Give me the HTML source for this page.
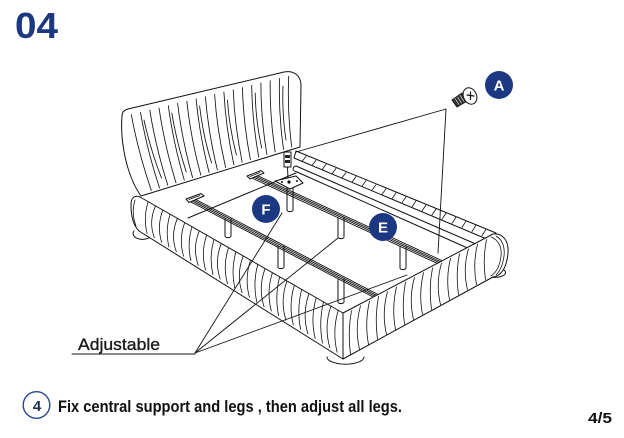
<!DOCTYPE html>
<html>
<head>
<meta charset="utf-8">
<style>
html,body{margin:0;padding:0;background:#fff;}
svg{display:block;}
text{font-family:"Liberation Sans",sans-serif;}
</style>
</head>
<body>
<svg width="624" height="438" viewBox="0 0 624 438" xmlns="http://www.w3.org/2000/svg">
<rect width="624" height="438" fill="#fff"/>
<text x="15" y="38" font-size="36" font-weight="bold" fill="#1c3883" textLength="43" lengthAdjust="spacingAndGlyphs">04</text>

<g stroke="#111" fill="none" stroke-width="1" stroke-linecap="round" stroke-linejoin="round">
<!-- headboard -->
<path d="M141,196 C126,175 120,140 122,116 C122,112 124,110 128,109 L284,72 C294,70 301,76 301,85 L300,147 Z" fill="#fff"/>
<g stroke-width="0.85">
<path d="M131.3,114.7 Q138.3,152.6 151.3,190.4"/>
<path d="M140.5,112.5 Q147,150.2 159.5,187.9"/>
<path d="M149.8,110.2 Q155.8,147.8 167.8,185.3"/>
<path d="M159,108 Q164.5,145.4 176,182.8"/>
<path d="M168.3,105.7 Q173.3,143 184.3,180.2"/>
<path d="M177.6,103.4 Q182.1,140.5 192.6,177.6"/>
<path d="M186.8,101.2 Q190.8,138.2 200.8,175.1"/>
<path d="M196.1,98.9 Q199.6,135.7 209.1,172.5"/>
<path d="M205.4,96.7 Q208.4,133.3 217.4,169.9"/>
<path d="M214.6,94.4 Q217.1,130.9 225.6,167.4"/>
<path d="M223.9,92.1 Q225.9,128.5 233.9,164.8"/>
<path d="M233.2,89.9 Q234.7,126 242.2,162.2"/>
<path d="M242.4,87.6 Q243.4,123.7 250.4,159.7"/>
<path d="M251.7,85.4 Q252.2,121.3 258.7,157.1"/>
<path d="M260.9,83.1 Q260.9,118.9 266.9,154.6"/>
<path d="M270.2,80.8 Q269.7,116.4 275.2,152"/>
<path d="M279.5,78.6 Q278.5,114 283.5,149.4"/>
<path d="M288.7,76.3 Q287.2,111.6 291.7,146.9"/>
<path d="M144,120 Q150.5,150 161.5,178"/>
<path d="M171.8,113 Q176.8,143 186.3,172"/>
<path d="M199.6,106 Q203.1,136 211.6,163"/>
<path d="M227.4,100 Q229.4,128 236.4,155"/>
<path d="M255.2,93 Q255.7,121 261.7,148"/>
<path d="M283,86 Q282,114 286,140"/>
</g>

<!-- interior back line -->
<path d="M188,218 L296,173"/>

<!-- right rail -->
<path d="M296,151 L496,233 L489,240 L294,158 Z" fill="#fff"/>
<g stroke-width="0.8">
<path d="M306,156.2 L302,161.5"/><path d="M316,160.3 L312,165.6"/><path d="M326,164.4 L322,169.7"/>
<path d="M336,168.4 L332,173.8"/><path d="M346,172.5 L342,177.9"/><path d="M356,176.5 L352,182.1"/>
<path d="M366,180.6 L362,186.2"/><path d="M376,184.7 L372,190.3"/><path d="M386,188.7 L382,194.4"/>
<path d="M396,192.8 L392,198.6"/><path d="M406,196.8 L402,202.7"/><path d="M416,200.9 L412,206.8"/>
<path d="M426,205 L422,210.9"/><path d="M436,209 L432,215"/><path d="M446,213.1 L442,219.2"/>
<path d="M456,217.1 L452,223.3"/><path d="M466,221.2 L462,227.4"/><path d="M476,225.3 L472,231.5"/>
<path d="M486,229.3 L482,235.6"/>
</g>
<!-- ledge bar -->
<path d="M296,166 L478,245"/>
<path d="M297,172 L472,250"/>
<path d="M296,166 C292,167 292,171 297,172"/>

<!-- legs -->
<g fill="#fff">
<path d="M225,219 L225,236 A3,1.6 0 0 0 231,236 L231,219"/>
<path d="M278,246 L278,267 A3,1.6 0 0 0 284,267 L284,246"/>
<path d="M338,279 L338,302 A3,1.6 0 0 0 344,302 L344,279"/>
<path d="M338,218 L338,237 A3,1.6 0 0 0 344,237 L344,218"/>
<path d="M400,247 L400,268 A3,1.6 0 0 0 406,268 L406,247"/>
<path d="M287,188 L287,210 A3,1.6 0 0 0 293,210 L293,188"/>
</g>

<!-- slat 1 -->
<g stroke-width="0.9">
<path d="M193,198 L379,295"/>
<path d="M192.3,199.3 L378.3,296.3"/>
<path d="M191.6,200.7 L377.6,297.7"/>
<path d="M190.9,202 L376.9,299"/>
<path d="M379,295 L376.9,299"/>
</g>
<path d="M186,199 L201,193.5 L204,196 L189,202.5 Z" fill="#fff"/>
<path d="M189,199.5 L200,195.5" stroke-width="0.8"/>
<!-- slat 2 -->
<g stroke-width="0.9">
<path d="M254,174 L445,262"/>
<path d="M253.4,175.4 L444.4,263.4"/>
<path d="M252.8,176.7 L443.8,264.7"/>
<path d="M252.1,178.1 L443.1,266.1"/>
<path d="M445,262 L443.1,266.1"/>
</g>
<path d="M247,176 L261,170.5 L264,173 L250,179 Z" fill="#fff"/>
<path d="M250,176.5 L260,172.5" stroke-width="0.8"/>

<!-- central support -->
<path d="M287.5,167 L288,179"/>
<rect x="284" y="152" width="7" height="15" fill="#fff"/>
<rect x="285" y="155" width="5" height="3" fill="#222" stroke="none"/>
<rect x="285" y="160" width="5" height="3" fill="#222" stroke="none"/>
<path d="M275,181 L296,176 L303,183 L290,189 Z" fill="#fff"/>
<circle cx="289" cy="182" r="1.6" fill="#111" stroke="none"/>
<circle cx="282" cy="182" r="1" fill="#111" stroke="none"/>
<circle cx="297" cy="181" r="1" fill="#111" stroke="none"/>

<!-- buns -->
<path d="M134,231 A8,5 0 0 0 151,236" fill="#fff"/>
<path d="M327,357 A18,7 0 0 0 364,357" fill="#fff"/>
<path d="M485,275 A9,4 0 0 0 504,270" fill="#fff"/>

<!-- left rail face -->
<path d="M140,197 L343,313 L343,359 L139,231 C133,225 131,215 131,205 C131,197 135,195 140,197 Z" fill="#fff"/>
<g stroke-width="0.8">
<path d="M148.1,202 Q143.1,217.7 147.1,233.3"/>
<path d="M155.4,206.2 Q148.4,222.1 154.4,237.9"/>
<path d="M162.7,210.3 Q156.7,226.4 161.7,242.5"/>
<path d="M170,214.5 Q165,230.8 169,247"/>
<path d="M177.3,218.7 Q170.3,235.2 176.3,251.6"/>
<path d="M184.6,222.9 Q178.6,239.6 183.6,256.2"/>
<path d="M191.9,227 Q186.9,243.9 190.9,260.7"/>
<path d="M199.2,231.2 Q192.2,248.3 198.2,265.3"/>
<path d="M206.6,235.4 Q200.6,252.7 205.6,269.9"/>
<path d="M213.9,239.6 Q208.9,257.1 212.9,274.5"/>
<path d="M221.2,243.7 Q214.2,261.4 220.2,279"/>
<path d="M228.5,247.9 Q222.5,265.8 227.5,283.6"/>
<path d="M235.8,252.1 Q230.8,270.2 234.8,288.2"/>
<path d="M243.1,256.3 Q236.1,274.5 242.1,292.7"/>
<path d="M250.4,260.4 Q244.4,278.9 249.4,297.3"/>
<path d="M257.7,264.6 Q252.7,283.3 256.7,301.9"/>
<path d="M265,268.8 Q258,287.7 264,306.5"/>
<path d="M272.3,273 Q266.3,292 271.3,311"/>
<path d="M279.6,277.1 Q274.6,296.4 278.6,315.6"/>
<path d="M286.9,281.3 Q279.9,300.8 285.9,320.2"/>
<path d="M294.3,285.5 Q288.3,305.2 293.3,324.8"/>
<path d="M301.6,289.7 Q296.6,309.5 300.6,329.3"/>
<path d="M308.9,293.9 Q301.9,313.9 307.9,333.9"/>
<path d="M316.2,298 Q310.2,318.3 315.2,338.5"/>
<path d="M323.5,302.2 Q318.5,322.6 322.5,343"/>
<path d="M330.8,306.4 Q323.8,327 329.8,347.6"/>
<path d="M338.1,310.6 Q332.1,331.4 337.1,352.2"/>
<path d="M135,200 Q131,213 136,226"/>
</g>

<!-- foot rail face -->
<path d="M343,313 L493,234 C503,233 509,241 508,253 C507,266 502,276 493,277 L343,359 Z" fill="#fff"/>
<g stroke-width="0.8">
<path d="M351.5,310.6 Q347.5,332.5 350.5,354.4"/>
<path d="M360.5,305.8 Q354.5,327.6 359.5,349.4"/>
<path d="M369.5,301.1 Q364.5,322.8 368.5,344.4"/>
<path d="M378.5,296.3 Q374.5,317.9 377.5,339.4"/>
<path d="M387.5,291.6 Q381.5,313 386.5,334.4"/>
<path d="M396.5,286.9 Q391.5,308.2 395.5,329.5"/>
<path d="M405.5,282.1 Q401.5,303.3 404.5,324.5"/>
<path d="M414.5,277.4 Q408.5,298.5 413.5,319.5"/>
<path d="M423.5,272.6 Q418.5,293.6 422.5,314.5"/>
<path d="M432.5,267.9 Q428.5,288.7 431.5,309.5"/>
<path d="M441.5,263.2 Q435.5,283.9 440.5,304.6"/>
<path d="M450.5,258.4 Q445.5,279 449.5,299.6"/>
<path d="M459.5,253.7 Q455.5,274.2 458.5,294.6"/>
<path d="M468.5,248.9 Q462.5,269.3 467.5,289.6"/>
<path d="M477.5,244.2 Q472.5,264.4 476.5,284.6"/>
<path d="M486.5,239.5 Q482.5,259.6 485.5,279.7"/>
<path d="M491,237 C499,240 502,248 501,256 C500,265 497,272 491,276"/>
<path d="M496,236 C503,240 505,248 504,256 C503,264 500,271 496,275"/>
</g>

<!-- leader lines -->
<g stroke-width="0.9">
<path d="M195,353 L282,213"/>
<path d="M195,353 L338,238"/>
<path d="M195,353 L407,275"/>
<path d="M72,354 L195,354"/>
<path d="M446,109 L296,152"/>
<path d="M446,109 L438,253"/>
</g>

<!-- screw -->
<path d="M452,100 L462,93 L467,101 L457,107 Z" fill="#333"/>
<g stroke="#fff" stroke-width="0.6">
<path d="M455,98.5 L459,104.5"/><path d="M457.5,97 L461.5,103"/><path d="M460,95.3 L464,101.3"/>
</g>
<ellipse cx="470" cy="96" rx="6.5" ry="8.5" transform="rotate(-25 470 96)" fill="#fff"/>
<path d="M467,95 L474,96 M470.5,92 L470.5,99.5" stroke-width="1.2"/>
</g>

<!-- label circles -->
<circle cx="499" cy="85" r="14" fill="#1c3883"/>
<text x="499" y="90.5" font-size="15" font-weight="bold" fill="#fff" text-anchor="middle">A</text>
<circle cx="266" cy="209" r="14" fill="#1c3883"/>
<text x="266" y="214.5" font-size="15" font-weight="bold" fill="#fff" text-anchor="middle">F</text>
<circle cx="383" cy="227" r="14" fill="#1c3883"/>
<text x="383" y="232.5" font-size="15" font-weight="bold" fill="#fff" text-anchor="middle">E</text>

<!-- Adjustable -->
<text x="78" y="350" font-size="17" fill="#1a1a1a" stroke="#1a1a1a" stroke-width="0.35" textLength="82" lengthAdjust="spacingAndGlyphs">Adjustable</text>

<!-- bottom -->
<circle cx="36.5" cy="405" r="13.3" fill="none" stroke="#2a4690" stroke-width="1.4"/>
<text x="37" y="411" font-size="15" font-weight="bold" fill="#1d2b5e" text-anchor="middle">4</text>
<text x="58" y="412" font-size="17" font-weight="bold" fill="#111" textLength="344" lengthAdjust="spacingAndGlyphs">Fix central support and legs , then adjust all legs.</text>
<text x="588" y="423" font-size="15" font-weight="bold" fill="#111" textLength="24" lengthAdjust="spacingAndGlyphs">4/5</text>
</svg>
</body>
</html>
